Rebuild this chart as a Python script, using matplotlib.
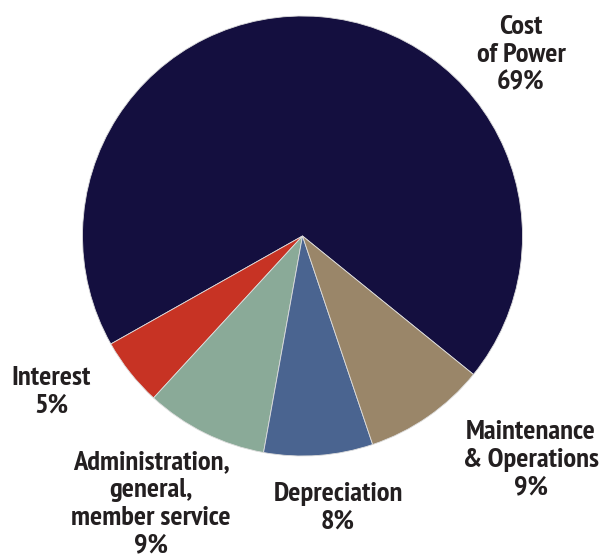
import matplotlib

matplotlib.use("Agg")
import matplotlib.pyplot as plt
from matplotlib import font_manager

# slice data, in counter-clockwise order starting at the Cost of Power slice
categories = ["Cost\nof Power", "Interest", "Administration,\ngeneral,\nmember service",
              "Depreciation", "Maintenance\n& Operations"]
shares = [69, 5, 9, 8, 9]
colors = ["#140f3f", "#c73324", "#8aaa98", "#4a6490", "#9a8669"]

# label anchors in pixel coordinates (x, y from top)
label_pos = [(521, 55), (51, 392), (151, 504), (338, 508), (531, 460)]


def pick_font():
    fonts = font_manager.fontManager.ttflist
    for key in ("narrow", "condensed", "cond"):
        for f in fonts:
            fn = f.fname.lower()
            if key in fn and "bold" in fn and "italic" not in fn and "oblique" not in fn:
                return font_manager.FontProperties(fname=f.fname), True
    return font_manager.FontProperties(family="Roboto", weight="bold"), False


W, H = 599, 560
fig = plt.figure(figsize=(W / 100, H / 100), dpi=100)
ax = fig.add_axes([0, 0, 1, 1])

ax.pie(shares, colors=colors, startangle=-39, counterclock=True,
       center=(302.5, H - 236), radius=220, frame=True,
       wedgeprops={"linewidth": 0.6, "edgecolor": "#dddddd"})
ax.set_xlim(0, W)
ax.set_ylim(0, H)
ax.set_aspect("equal")
ax.axis("off")

fp, condensed = pick_font()
fp.set_size(20.5 if condensed else 16)
for name, share, (px, py) in zip(categories, shares, label_pos):
    ax.text(px, H - py, f"{name}\n{share}%", ha="center", va="center",
            fontproperties=fp, color="#231f20", linespacing=1.2)

fig.savefig("out.png", dpi=100)
